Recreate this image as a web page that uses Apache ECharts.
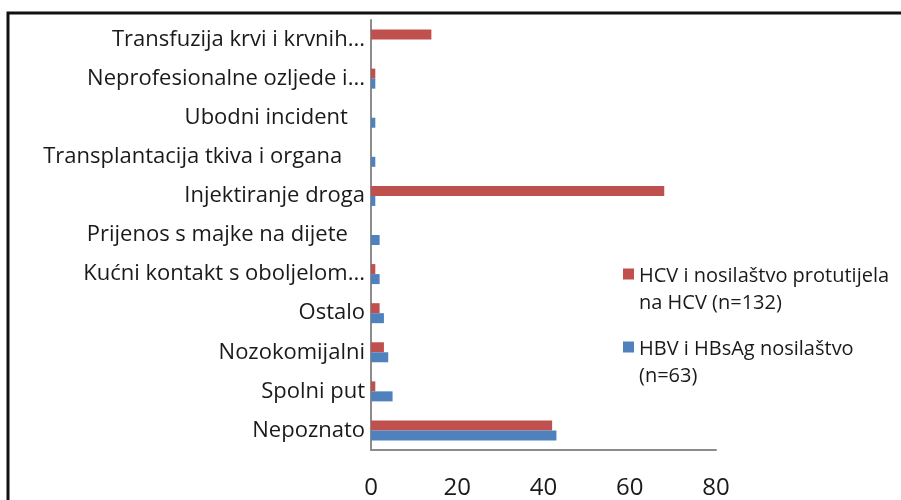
<!DOCTYPE html>
<html>
<head>
<meta charset="utf-8">
<script src="https://cdn.jsdelivr.net/npm/echarts@6/dist/echarts.min.js"></script>
<style>
  html, body { margin: 0; padding: 0; background: #fff; }
  #chart { width: 901px; height: 500px; }
</style>
</head>
<body>
<div id="chart"></div>
<script>
// kategorije odozgo prema dolje
var categories = [
    'Transfuzija krvi i krvnih...',
    'Neprofesionalne ozljede i...',
    'Ubodni incident   ',
    'Transplantacija tkiva i organa    ',
    'Injektiranje droga',
    'Prijenos s majke na dijete   ',
    'Kućni kontakt s oboljelom...',
    'Ostalo',
    'Nozokomijalni',
    'Spolni put',
    'Nepoznato'
];
var hcvValues = [14, 1, 0, 0, 68, 0, 1, 2, 3, 1, 42];
var hbvValues = [0, 1, 1, 1, 1, 2, 2, 3, 4, 5, 43];
var seriesNames = ['HCV i nosilaštvo protutijela\nna HCV (n=132)', 'HBV i HBsAg nosilaštvo\n(n=63)'];
var xTicks = [0, 20, 40, 60, 80];

var font = 'Open Sans';
var myChart = echarts.init(document.getElementById('chart'));
// ikona legende: kvadrat gore, prazno dolje (da bude uz prvi redak)
var legendIcon = 'path://M0,0h11v11h-11z M0,43h11v0.01h-11z';

var option = {
    backgroundColor: '#fff',
    animation: false,
    grid: { left: 371, right: 185, top: 20, bottom: 49 },
    legend: {
        orient: 'vertical',
        left: 618,
        top: 258,
        itemWidth: 11,
        itemHeight: 43,
        itemGap: 19,
        icon: legendIcon,
        itemStyle: { borderWidth: 0 },
        data: seriesNames,
        textStyle: { fontFamily: font, fontSize: 20, color: '#1a1a1a', lineHeight: 27 }
    },
    xAxis: {
        type: 'value',
        min: 0,
        max: 80,
        interval: 20,
        splitLine: { show: false },
        axisLine: { show: true, lineStyle: { color: '#8c8c8c', width: 2 } },
        axisTick: { show: false },
        axisLabel: {
            margin: 26,
            fontFamily: font,
            fontSize: 24,
            color: '#1a1a1a',
            formatter: function (v) { return xTicks.indexOf(v) >= 0 ? String(v) : ''; }
        }
    },
    yAxis: {
        type: 'category',
        inverse: true,
        data: categories,
        axisLine: { show: true, lineStyle: { color: '#8c8c8c', width: 2 } },
        axisTick: { show: false },
        axisLabel: { margin: 6, fontFamily: font, fontSize: 22, color: '#1a1a1a' }
    },
    series: [
        {
            name: seriesNames[0],
            type: 'bar',
            data: hcvValues,
            barWidth: 10,
            barGap: '0%',
            itemStyle: { color: '#c0504d', borderWidth: 0 }
        },
        {
            name: seriesNames[1],
            type: 'bar',
            data: hbvValues,
            barWidth: 10,
            barGap: '0%',
            itemStyle: { color: '#4f81bd', borderWidth: 0 }
        }
    ],
    graphic: [
        {
            type: 'rect',
            shape: { x: 8, y: 13, width: 900, height: 500 },
            style: { fill: 'none', stroke: '#111', lineWidth: 3 },
            silent: true
        }
    ]
};
myChart.setOption(option);
</script>
</body>
</html>
